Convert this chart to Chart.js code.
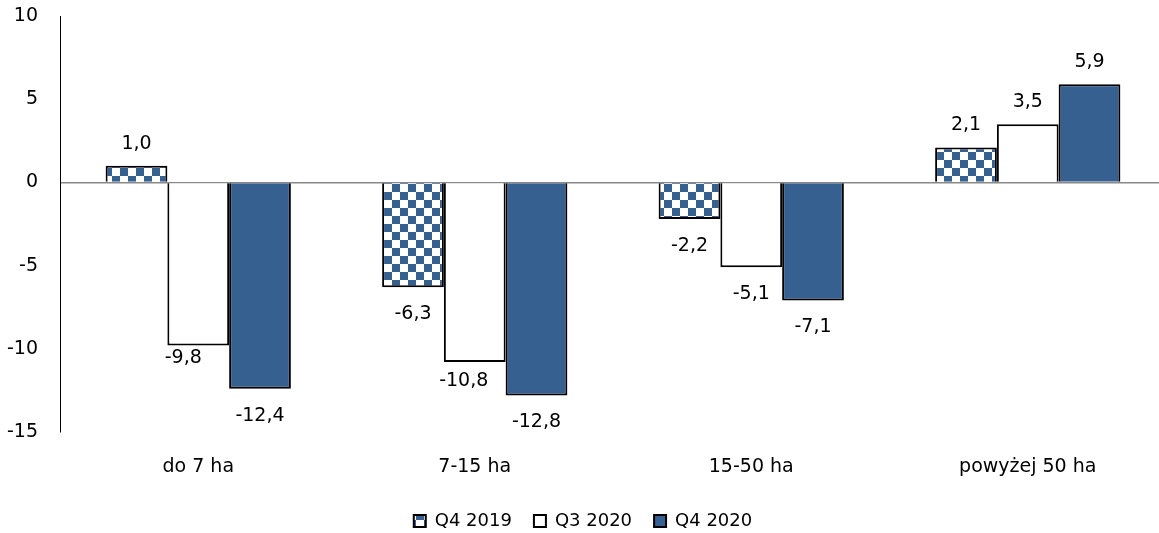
<!DOCTYPE html>
<html>
<head>
<meta charset="utf-8">
<script src="https://cdn.jsdelivr.net/npm/chart.js@4/dist/chart.umd.min.js"></script>
<style>
html,body{margin:0;padding:0;background:#fff;overflow:hidden}
#box{width:1168px;height:533px}
</style>
</head>
<body>
<div id="box"><canvas id="grafico"></canvas></div>
<script>
let kategorie=['do 7 ha','7-15 ha','15-50 ha','powyżej 50 ha']
let serie=['Q4 2019','Q3 2020','Q4 2020']
let q4_2019=[1.0,-6.3,-2.2,2.1]
let q3_2020=[-9.8,-10.8,-5.1,3.5]
let q4_2020=[-12.4,-12.8,-7.1,5.9]
let osY=[-15,-10,-5,0,5,10]

let niebieski='#36608f'
let czcionka='"DejaVu Sans", sans-serif'

// szachownica dla Q4 2019
function wzor(){
let c=document.createElement('canvas')
c.width=16
c.height=16
let g=c.getContext('2d')
g.fillStyle='#fff'
g.fillRect(0,0,16,16)
g.fillStyle=niebieski
g.fillRect(0,0,8,8)
g.fillRect(8,8,8,8)
return g.createPattern(c,'repeat')
}
let szachownica=wzor()

// drobne przesunięcia etykiet (dx,dy) jak w oryginale
let przesuniecie={'1-0':[-15,-14],'1-1':[-11,-8]}

let etykiety={
id:'etykiety',
afterDatasetsDraw(chart){
let ctx=chart.ctx
ctx.save()
ctx.font='19px '+czcionka
ctx.fillStyle='#000'
ctx.textAlign='center'
ctx.textBaseline='middle'
chart.data.datasets.forEach((ds,i)=>{
chart.getDatasetMeta(i).data.forEach((bar,j)=>{
let v=ds.data[j]
let y=v>=0?bar.y-22:bar.y+27
let p=przesuniecie[i+'-'+j]||[0,0]
ctx.fillText(v.toFixed(1).replace('.',','),bar.x+p[0],y+p[1])
})
})
ctx.restore()
}
}

new Chart(document.getElementById('grafico'),{
type:'bar',
data:{
labels:kategorie,
datasets:[
{label:serie[0],data:q4_2019,backgroundColor:szachownica,borderColor:'#000',borderWidth:2},
{label:serie[1],data:q3_2020,backgroundColor:'#fff',borderColor:'#000',borderWidth:2},
{label:serie[2],data:q4_2020,backgroundColor:niebieski,borderColor:'#000',borderWidth:2}
]
},
options:{
responsive:true,
maintainAspectRatio:false,
animation:false,
layout:{padding:{top:16,right:2,left:0,bottom:-7}},
datasets:{bar:{barPercentage:1,categoryPercentage:0.67}},
scales:{
x:{
grid:{display:false},
border:{display:false},
afterFit(s){s.height=58},
ticks:{color:'#000',font:{family:czcionka,size:19},padding:16}
},
y:{
min:-15,
max:10,
afterBuildTicks(s){s.ticks=osY.map(v=>({value:v}))},
afterFit(s){
s.width=60
s.paddingTop=0
s.paddingBottom=0
},
border:{display:true,color:'#000',width:1},
grid:{
drawTicks:false,
color:c=>c.tick&&c.tick.value===0?'#888':'rgba(0,0,0,0)',
lineWidth:1.5
},
ticks:{color:'#000',font:{family:czcionka,size:19},padding:22}
}
},
plugins:{
tooltip:{enabled:false},
legend:{
position:'bottom',
labels:{
color:'#000',
font:{family:czcionka,size:18},
boxWidth:12,
boxHeight:12,
padding:22
}
}
}
},
plugins:[etykiety]
})
</script>
</body>
</html>
